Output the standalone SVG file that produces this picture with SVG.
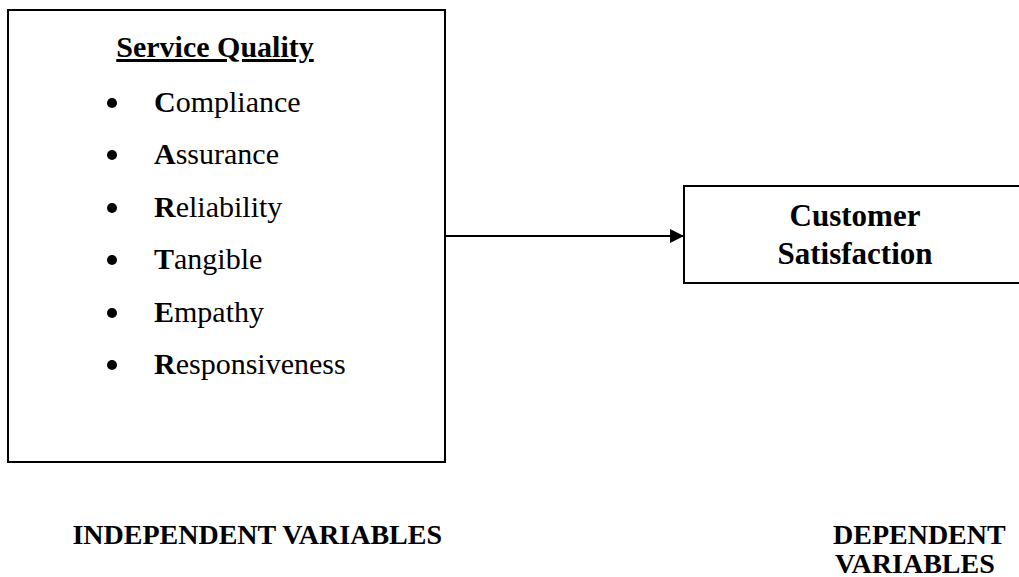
<svg xmlns="http://www.w3.org/2000/svg" width="1019" height="577" viewBox="0 0 1019 577">
<style>
.box{fill:#fff;stroke:#000;stroke-width:2}
.t{font-family:"Liberation Serif","Times New Roman",serif;fill:#000}
.item{font-size:30px}
.b{font-weight:bold}
.conn{stroke:#000;stroke-width:2;fill:none}
</style>
<defs>
<marker id="arr" markerWidth="14" markerHeight="14" refX="14" refY="7" orient="auto" markerUnits="userSpaceOnUse">
<path d="M0,0 L14,7 L0,14 Z" fill="#000"/>
</marker>
</defs>
<rect width="1019" height="577" fill="#fff"/>
<g id="node-service-quality">
<rect class="box" x="8" y="10" width="437" height="452"/>
<text class="t b" x="215" y="57" font-size="30" text-anchor="middle" text-decoration="underline">Service Quality</text>
<g class="t item">
<circle cx="112" cy="103" r="5"/><text x="154" y="112"><tspan font-weight="bold">C</tspan>ompliance</text>
<circle cx="112" cy="155" r="5"/><text x="154" y="164"><tspan font-weight="bold">A</tspan>ssurance</text>
<circle cx="112" cy="208" r="5"/><text x="154" y="217"><tspan font-weight="bold">R</tspan>eliability</text>
<circle cx="112" cy="260" r="5"/><text x="154" y="269"><tspan font-weight="bold">T</tspan>angible</text>
<circle cx="112" cy="313" r="5"/><text x="154" y="322"><tspan font-weight="bold">E</tspan>mpathy</text>
<circle cx="112" cy="365" r="5"/><text x="154" y="374"><tspan font-weight="bold">R</tspan>esponsiveness</text>
</g>
</g>
<g id="node-customer-satisfaction">
<rect class="box" x="684" y="186" width="345" height="97"/>
<text class="t b" x="855" y="226" font-size="31" text-anchor="middle">Customer</text>
<text class="t b" x="855" y="264" font-size="31" text-anchor="middle">Satisfaction</text>
</g>
<g id="connectors">
<line class="conn" x1="445" y1="236" x2="684" y2="236" marker-end="url(#arr)"/>
</g>
<g id="labels">
<text class="t b" x="442" y="544" font-size="28" text-anchor="end">INDEPENDENT VARIABLES</text>
<text class="t b" x="833" y="544" font-size="28">DEPENDENT</text>
<text class="t b" x="835" y="573" font-size="28">VARIABLES</text>
</g>
</svg>
